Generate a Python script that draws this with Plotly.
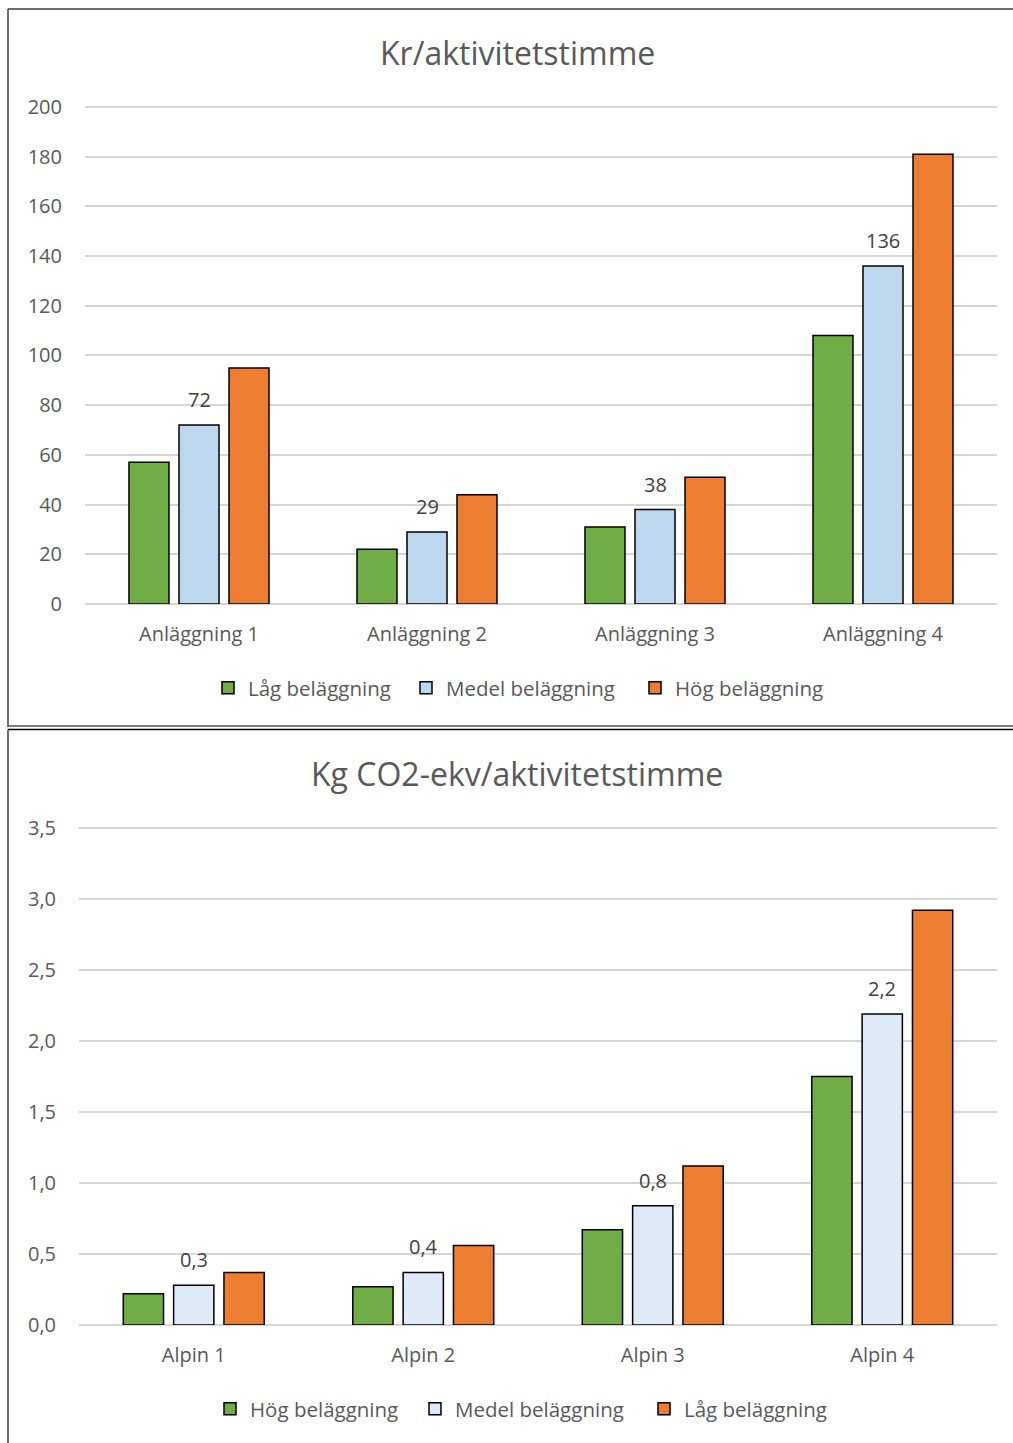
import plotly.graph_objects as go

W, H = 1013, 1443

# --- Chart 1: cost per activity hour ---
cats1 = ["Anläggning 1", "Anläggning 2", "Anläggning 3", "Anläggning 4"]
kr_lag = [57, 22, 31, 108]
kr_medel = [72, 29, 38, 136]
kr_hog = [95, 44, 51, 181]
kr_ticks = [0, 20, 40, 60, 80, 100, 120, 140, 160, 180, 200]

# --- Chart 2: CO2 per activity hour ---
cats2 = ["Alpin 1", "Alpin 2", "Alpin 3", "Alpin 4"]
co2_hog = [0.22, 0.27, 0.67, 1.75]
co2_medel = [0.28, 0.37, 0.84, 2.19]
co2_lag = [0.37, 0.56, 1.12, 2.92]
co2_ticks = [0, 0.5, 1.0, 1.5, 2.0, 2.5, 3.0, 3.5]

GREEN = "#70AD47"
BLUE1 = "#BDD7EE"
BLUE2 = "#DEEBF7"
ORANGE = "#ED7D31"
TEXT = "#595959"
GRID = "#D6D6D6"
FONT = "Open Sans"


def px_x(x):
    return x / W


def px_y(y):
    return 1 - y / H


def y_domain(px_zero, px_top_tick, top_tick, top_range):
    """Domain that puts 0 and top_tick at the given pixel rows, with a little headroom."""
    per_unit = (px_zero - px_top_tick) / top_tick
    px_top = px_zero - per_unit * top_range
    return [px_y(px_zero), px_y(px_top)]


fig = go.Figure()

outline = dict(color="#000000", width=1.5)

# legendwidth values set the spacing between legend entries
for name, vals, col, lw in [("Låg beläggning", kr_lag, GREEN, 153),
                            ("Medel beläggning", kr_medel, BLUE1, 184),
                            ("Hög beläggning", kr_hog, ORANGE, 150)]:
    fig.add_trace(go.Bar(x=cats1, y=vals, name=name, marker=dict(color=col, line=outline),
                         xaxis="x", yaxis="y", legend="legend", legendwidth=lw))

for name, vals, col, lw in [("Hög beläggning", co2_hog, GREEN, 160),
                            ("Medel beläggning", co2_medel, BLUE2, 184),
                            ("Låg beläggning", co2_lag, ORANGE, 150)]:
    fig.add_trace(go.Bar(x=cats2, y=vals, name=name, marker=dict(color=col, line=outline),
                         xaxis="x2", yaxis="y2", legend="legend2", legendwidth=lw))

label_font = dict(size=20, color="#404040", family=FONT)

# value labels above the middle series
annotations = []
for c, v in zip(cats1, kr_medel):
    annotations.append(dict(x=c, y=v, xref="x", yref="y", text=f"{v:d}", showarrow=False,
                            yanchor="bottom", yshift=10, font=label_font))
for c, v in zip(cats2, co2_medel):
    annotations.append(dict(x=c, y=v, xref="x2", yref="y2", text=f"{v:.1f}".replace(".", ","),
                            showarrow=False, yanchor="bottom", yshift=10, font=label_font))

title_font = dict(size=32, color=TEXT, family=FONT)
annotations.append(dict(x=px_x(517), y=px_y(53), xref="paper", yref="paper", yanchor="middle",
                        text="Kr/aktivitetstimme", showarrow=False, font=title_font))
annotations.append(dict(x=px_x(517), y=px_y(773), xref="paper", yref="paper", yanchor="middle",
                        text="Kg CO2-ekv/aktivitetstimme", showarrow=False, font=title_font))

# panel frames
shapes = [
    dict(type="line", xref="paper", yref="paper", x0=px_x(8), x1=1, y0=px_y(9), y1=px_y(9),
         line=dict(color="#404040", width=1.5)),
    dict(type="line", xref="paper", yref="paper", x0=px_x(8), x1=px_x(8), y0=px_y(9), y1=px_y(727),
         line=dict(color="#404040", width=1.5)),
    dict(type="line", xref="paper", yref="paper", x0=px_x(8), x1=1, y0=px_y(726), y1=px_y(726),
         line=dict(color="#555555", width=1.5)),
    dict(type="line", xref="paper", yref="paper", x0=px_x(8), x1=1, y0=px_y(729.5), y1=px_y(729.5),
         line=dict(color="#000000", width=1.5)),
    dict(type="line", xref="paper", yref="paper", x0=px_x(8), x1=px_x(8), y0=px_y(729.5), y1=0,
         line=dict(color="#404040", width=1.5)),
]

axis_font = dict(size=20, color=TEXT, family=FONT)
legend_font = dict(size=20.5, color=TEXT, family=FONT)

fig.update_layout(
    width=W, height=H,
    margin=dict(l=0, r=0, t=0, b=0, autoexpand=False),
    paper_bgcolor="white", plot_bgcolor="white",
    barmode="group", bargap=0.342, bargroupgap=0.2,
    font=dict(family=FONT, color=TEXT),
    annotations=annotations, shapes=shapes,
    xaxis=dict(domain=[px_x(85), px_x(997)], anchor="y", type="category", showgrid=False,
               showline=False, ticks="", tickfont=axis_font, ticklabelstandoff=16),
    yaxis=dict(domain=y_domain(604, 107, 200, 201), anchor="x", range=[0, 201], tickvals=kr_ticks,
               showgrid=True, gridcolor=GRID, gridwidth=1.6, zeroline=True, zerolinecolor=GRID,
               zerolinewidth=1.6, showline=False, ticks="", tickfont=axis_font,
               ticklabelstandoff=22),
    xaxis2=dict(domain=[px_x(79), px_x(997)], anchor="y2", type="category", showgrid=False,
                showline=False, ticks="", tickfont=axis_font, ticklabelstandoff=16),
    yaxis2=dict(domain=y_domain(1325, 828, 3.5, 3.52), anchor="x2", range=[0, 3.52],
                tickvals=co2_ticks,
                ticktext=[f"{t:.1f}".replace(".", ",") for t in co2_ticks],
                showgrid=True, gridcolor=GRID, gridwidth=1.6, zeroline=True, zerolinecolor=GRID,
                zerolinewidth=1.6, showline=False, ticks="", tickfont=axis_font,
                ticklabelstandoff=22),
    legend=dict(orientation="h", x=px_x(208), xanchor="left", y=px_y(688), yanchor="middle",
                font=legend_font, traceorder="normal",
                itemwidth=30, bgcolor="rgba(0,0,0,0)"),
    legend2=dict(orientation="h", x=px_x(210), xanchor="left", y=px_y(1409), yanchor="middle",
                 font=legend_font, traceorder="normal",
                 itemwidth=30, bgcolor="rgba(0,0,0,0)"),
)

fig.write_html("out.html")
